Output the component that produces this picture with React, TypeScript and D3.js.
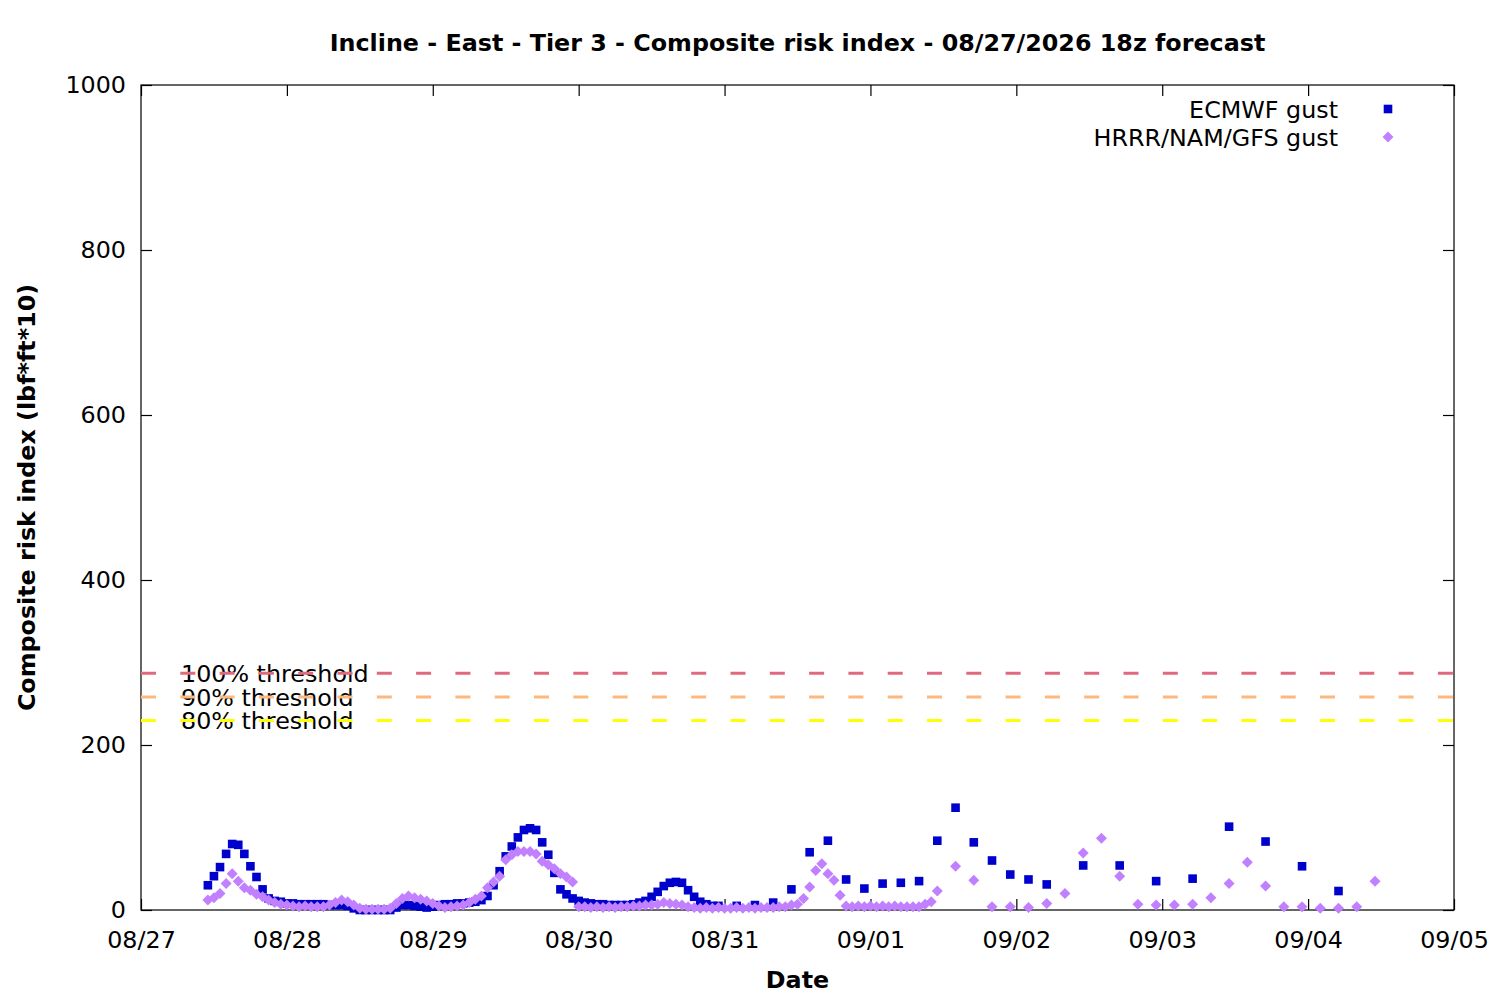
import React, { useEffect, useRef } from "react";
import * as d3 from "d3";

// hours are counted from 08/27 00:00 local
const dayLabels = ["08/27", "08/28", "08/29", "08/30", "08/31", "09/01", "09/02", "09/03", "09/04", "09/05"];
const yTicks = [0, 200, 400, 600, 800, 1000];

// ECMWF gust: hourly from h11, 3-hourly from h98, 6-hourly from h155
const ecmwfHourly = [
  30, 41, 52, 68, 80, 79, 68, 53, 40, 25, 14, 11, 10, 8, 8, 7, 7, 7, 7, 7,
  6, 6, 6, 5, 2, 0, 0, 0, 0, 0, 0, 3, 6, 6, 5, 4, 3, 4, 6, 7,
  7, 8, 8, 9, 10, 12, 17, 30, 47, 65, 77, 88, 97, 99, 97, 82, 67, 45, 25, 19,
  14, 11, 9, 8, 7, 7, 6, 6, 6, 6, 7, 9, 11, 16, 22, 29, 33, 34, 33, 24,
  16, 10, 7, 5, 5,
];
const ecmwf3h = [5, 6, 9, 25, 70, 84, 37, 26, 32, 33, 35, 84, 124, 82, 60, 43, 37, 31];
const ecmwf6h = [54, 54, 35, 38, 101, 83, 53, 23];

// HRRR/NAM/GFS gust: hourly from h11, 3-hourly from h134
const hrrrHourly = [
  12, 15, 20, 32, 44, 35, 27, 24, 19, 16, 12, 9, 7, 6, 5, 4, 5, 4, 4, 4,
  6, 9, 12, 10, 6, 2, 1, 1, 1, 1, 2, 8, 14, 17, 15, 13, 11, 8, 5, 3,
  4, 5, 6, 9, 13, 17, 27, 34, 41, 61, 67, 71, 71, 71, 68, 59, 55, 50, 44, 40,
  34, 4, 4, 3, 4, 3, 4, 3, 4, 4, 5, 5, 6, 6, 7, 9, 8, 7, 6, 4,
  3, 2, 3, 2, 3, 2, 2, 3, 2, 3, 2, 3, 3, 3, 4, 4, 6, 7, 14, 28,
  48, 56, 44, 36, 18, 5, 4, 5, 4, 5, 4, 5, 4, 5, 4, 4, 4, 4, 7, 10,
  23,
];
const hrrr3h = [53, 36, 4, 4, 3, 8, 20, 69, 87, 41, 7, 6, 6, 7, 15, 32, 58, 29, 4, 4, 2, 2, 4, 35];

const thresholdLabels = ["100% threshold", "90% threshold", "80% threshold"];
const thresholdValues = [287, 258.3, 229.6];
const thresholdColors = ["#e0697e", "#fdb87d", "#ffff00"];

type Pt = { h: number; v: number };
const run = (start: number, step: number, vals: number[]): Pt[] =>
  vals.map((v, i) => ({ h: start + i * step, v }));

const ecmwf = [...run(11, 1, ecmwfHourly), ...run(98, 3, ecmwf3h), ...run(155, 6, ecmwf6h)];
const hrrr = [...run(11, 1, hrrrHourly), ...run(134, 3, hrrr3h)];

const W = 1500;
const H = 1000;
const L = 141;
const R = 1454;
const T = 85;
const B = 910;
const FONT = "DejaVu Sans";
const FS = 23.8;
const BLUE = "#0000cc";
const PURPLE = "#c080ff";

export default function App() {
  const svgRef = useRef<SVGSVGElement | null>(null);

  useEffect(() => {
    if (!svgRef.current) return;
    const svg = d3.select(svgRef.current);
    svg.selectAll("*").remove();

    const x = d3.scaleLinear().domain([0, 24 * (dayLabels.length - 1)]).range([L, R]);
    const y = d3.scaleLinear().domain([0, 1000]).range([B, T]);
    const dayHours = dayLabels.map((_, i) => i * 24);

    svg.append("rect").attr("width", W).attr("height", H).attr("fill", "#fff");

    // axes (ticks point inward, gnuplot style)
    const styleAxis = (g: d3.Selection<SVGGElement, unknown, null, undefined>) => {
      g.select(".domain").remove();
      g.selectAll("line").attr("stroke", "#000").attr("stroke-width", 1.2);
      g.selectAll("text").attr("font-family", FONT).attr("font-size", FS).attr("fill", "#000");
    };

    svg
      .append("g")
      .attr("transform", `translate(0,${B})`)
      .call(
        d3
          .axisBottom(x)
          .tickValues(dayHours)
          .tickFormat((_, i) => dayLabels[i])
          .tickSizeInner(-11)
          .tickSizeOuter(0)
          .tickPadding(21)
      )
      .call(styleAxis);

    svg
      .append("g")
      .attr("transform", `translate(0,${T})`)
      .call(d3.axisTop(x).tickValues(dayHours).tickFormat(() => "").tickSizeInner(-11).tickSizeOuter(0))
      .call(styleAxis);

    svg
      .append("g")
      .attr("transform", `translate(${L},0)`)
      .call(
        d3
          .axisLeft(y)
          .tickValues(yTicks)
          .tickFormat(d3.format("d"))
          .tickSizeInner(-11)
          .tickSizeOuter(0)
          .tickPadding(15)
      )
      .call(styleAxis);

    svg
      .append("g")
      .attr("transform", `translate(${R},0)`)
      .call(d3.axisRight(y).tickValues(yTicks).tickFormat(() => "").tickSizeInner(-11).tickSizeOuter(0))
      .call(styleAxis);

    svg
      .append("rect")
      .attr("x", L)
      .attr("y", T)
      .attr("width", R - L)
      .attr("height", B - T)
      .attr("fill", "none")
      .attr("stroke", "#000")
      .attr("stroke-width", 1.2);

    // thresholds: label first, dashed line drawn over it
    thresholdValues.forEach((v, i) => {
      svg
        .append("text")
        .attr("x", 181)
        .attr("y", y(v) + 8.6)
        .attr("font-family", FONT)
        .attr("font-size", FS)
        .text(thresholdLabels[i]);
      svg
        .append("line")
        .attr("x1", L)
        .attr("x2", R)
        .attr("y1", y(v))
        .attr("y2", y(v))
        .attr("stroke", thresholdColors[i])
        .attr("stroke-width", 3)
        .attr("stroke-dasharray", "15 24.3");
    });

    // ECMWF squares
    const s = 8.6;
    svg
      .append("g")
      .selectAll("rect")
      .data(ecmwf)
      .join("rect")
      .attr("x", (d) => x(d.h) - s / 2)
      .attr("y", (d) => y(d.v) - s / 2)
      .attr("width", s)
      .attr("height", s)
      .attr("fill", BLUE);

    // HRRR/NAM/GFS diamonds
    const r = 5.5;
    const diamond = (cx: number, cy: number) =>
      `M${cx},${cy - r}L${cx + r},${cy}L${cx},${cy + r}L${cx - r},${cy}Z`;
    svg
      .append("g")
      .selectAll("path")
      .data(hrrr)
      .join("path")
      .attr("d", (d) => diamond(x(d.h), y(d.v)))
      .attr("fill", PURPLE);

    // legend
    const legend = [
      { label: "ECMWF gust", cy: 109 },
      { label: "HRRR/NAM/GFS gust", cy: 137 },
    ];
    legend.forEach((d) => {
      svg
        .append("text")
        .attr("x", 1338)
        .attr("y", d.cy + 8.6)
        .attr("text-anchor", "end")
        .attr("font-family", FONT)
        .attr("font-size", FS)
        .text(d.label);
    });
    svg
      .append("rect")
      .attr("x", 1388 - s / 2)
      .attr("y", 109 - s / 2)
      .attr("width", s)
      .attr("height", s)
      .attr("fill", BLUE);
    svg.append("path").attr("d", diamond(1388, 137)).attr("fill", PURPLE);

    // title and axis labels
    svg
      .append("text")
      .attr("x", (L + R) / 2)
      .attr("y", 51)
      .attr("text-anchor", "middle")
      .attr("font-family", FONT)
      .attr("font-weight", "bold")
      .attr("font-size", 23.8)
      .text("Incline - East - Tier 3 - Composite risk index - 08/27/2026 18z forecast");

    svg
      .append("text")
      .attr("x", (L + R) / 2)
      .attr("y", 988)
      .attr("text-anchor", "middle")
      .attr("font-family", FONT)
      .attr("font-weight", "bold")
      .attr("font-size", FS)
      .text("Date");

    svg
      .append("text")
      .attr("transform", `translate(35,${(T + B) / 2}) rotate(-90)`)
      .attr("text-anchor", "middle")
      .attr("font-family", FONT)
      .attr("font-weight", "bold")
      .attr("font-size", FS)
      .text("Composite risk index (lbf*ft*10)");
  }, []);

  return (
    <div style={{ position: "absolute", left: 0, top: 0 }}>
      <svg ref={svgRef} width={W} height={H} />
    </div>
  );
}
